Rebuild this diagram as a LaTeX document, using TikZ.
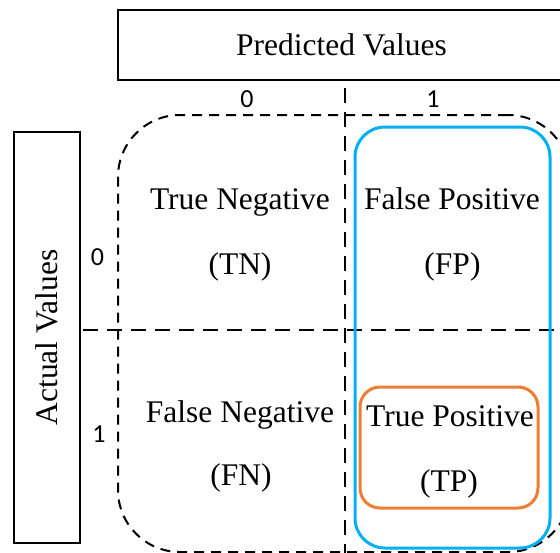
\documentclass[tikz,border=0pt]{standalone}
\usepackage{fontspec}
\setmainfont{Liberation Serif}
\newfontfamily\digitfont{Carlito}
\definecolor{cblue}{HTML}{00B0F0}
\definecolor{corange}{HTML}{ED7D31}
\begin{document}
\begin{tikzpicture}[x=1pt,y=-1pt,
  lbl/.style={font=\fontsize{31.5}{36}\selectfont, inner sep=0pt, anchor=base},
  dig/.style={font=\digitfont\fontsize{26}{30}\selectfont, inner sep=0pt, anchor=base},
  frame/.style={draw=black, line width=2pt, inner sep=0pt, font=\fontsize{31.5}{36}\selectfont},
  gridline/.style={line width=2.5pt, dash pattern=on 15pt off 9pt},
  region/.style={draw, line width=2pt, dash pattern=on 10pt off 7pt, rounded corners=62pt, inner sep=0pt},
  posbox/.style={draw=cblue, line width=3pt, rounded corners=30pt, inner sep=0pt},
  tpbox/.style={draw=corange, line width=3pt, rounded corners=20pt, inner sep=0pt}]
\useasboundingbox (0,0) rectangle (560,552);
\clip (0,0) rectangle (560,552);
% header boxes
\node[frame, minimum width=447pt, minimum height=70pt] (pred) at (341.5,45) {Predicted Values};
\node[frame, rotate=90, minimum width=411pt, minimum height=66pt] (act) at (47,337.5) {Actual Values};
% axis digits
\node[dig] (p0) at (247,107) {0};
\node[dig] (p1) at (433,107) {1};
\node[dig] (a0) at (97.5,265) {0};
\node[dig] (a1) at (99,442) {1};
% dashed region and grid
\node[region, minimum width=452pt, minimum height=437pt] (reg) at (344,333.5) {};
\coordinate (vtop) at (345,88);
\coordinate (vbot) at (345,560);
\coordinate (hl) at (83,330);
\coordinate (hr) at (570,330);
\draw[gridline] (vtop) -- (vbot);
\draw[gridline] (hl) -- (hr);
% coloured boxes
\node[posbox, minimum width=195pt, minimum height=421pt] (pos) at (452.5,337.5) {};
\node[tpbox, minimum width=178pt, minimum height=121pt] (tpb) at (449,447.5) {};
% cell texts
\node[lbl] (tn1) at (240,209) {True Negative};
\node[lbl] (tn2) at (240,274) {(TN)};
\node[lbl] (fp1) at (452,209) {False Positive};
\node[lbl] (fp2) at (452.5,274) {(FP)};
\node[lbl] (fn1) at (240,422) {False Negative};
\node[lbl] (fn2) at (241,485) {(FN)};
\node[lbl] (tp1) at (450,426) {True Positive};
\node[lbl] (tp2) at (449,491) {(TP)};
\end{tikzpicture}
\end{document}
